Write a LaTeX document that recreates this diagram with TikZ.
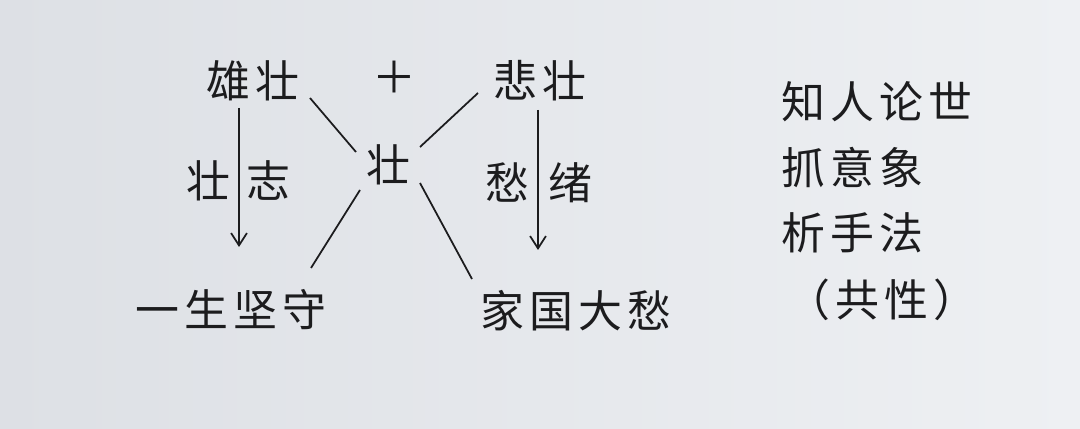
\documentclass[tikz,border=0pt]{standalone}
\usepackage{fontspec}
\setmainfont{Noto Sans CJK SC}
\usetikzlibrary{arrows.meta}
\definecolor{ink}{HTML}{1C1C1E}
\definecolor{paperL}{HTML}{DDE0E5}
\definecolor{paperR}{HTML}{EEF0F3}
\begin{document}
\begin{tikzpicture}[x=0.02cm,y=-0.02cm,
    word/.style={inner sep=0pt, text=ink, font=\fontsize{25}{25}\selectfont\addfontfeature{LetterSpace=12}},
    link/.style={draw=ink, line width=1pt},
    flow/.style={link, -{Straight Barb[length=7pt,width=9pt]}}]
    % paper
    \shade[left color=paperL, right color=paperR] (0,0) rectangle (1080,429);
    \useasboundingbox (0,0) rectangle (1080,429);
    % top row
    \node[word] (xiong) at (253,81) {雄壮};
    \node[word] (plus)  at (394,77) {＋};
    \node[word] (bei)   at (540,81) {悲壮};
    \node[word] (mid)   at (388,165) {壮};
    % side words on the arrows
    \node[word] (zhuang) at (208,181) {壮};
    \node[word] (zhi)    at (268,181) {志};
    \node[word] (chou)   at (507,183) {愁};
    \node[word] (xu)     at (570,183) {绪};
    % bottom row
    \node[word] (jianshou) at (231,310) {一生坚守};
    \node[word] (dachou)   at (576,311) {家国大愁};
    % ends of the cross
    \coordinate (xl) at (310,98);  \coordinate (ml) at (356,152);
    \coordinate (br) at (478,93);  \coordinate (mr) at (420,147);
    \coordinate (ll) at (360,190); \coordinate (jl) at (311,268);
    \coordinate (lr) at (420,183); \coordinate (dl) at (472,279);
    \draw[link] (xl) -- (ml);
    \draw[link] (br) -- (mr);
    \draw[link] (ll) -- (jl);
    \draw[link] (lr) -- (dl);
    % arrows
    \coordinate (xa) at (239,108); \coordinate (xb) at (239,247);
    \coordinate (ba) at (538,110); \coordinate (bb) at (538,250);
    \draw[flow] (xa) -- (xb);
    \draw[flow] (ba) -- (bb);
    % right column
    \node[word, anchor=west] (zhiren)  at (781,102) {知人论世};
    \node[word, anchor=west] (zhua)    at (781,167) {抓意象};
    \node[word, anchor=west] (xi)      at (781,233) {析手法};
    \node[word, anchor=west] (gongxing) at (786,300) {（共性）};
\end{tikzpicture}
\end{document}
